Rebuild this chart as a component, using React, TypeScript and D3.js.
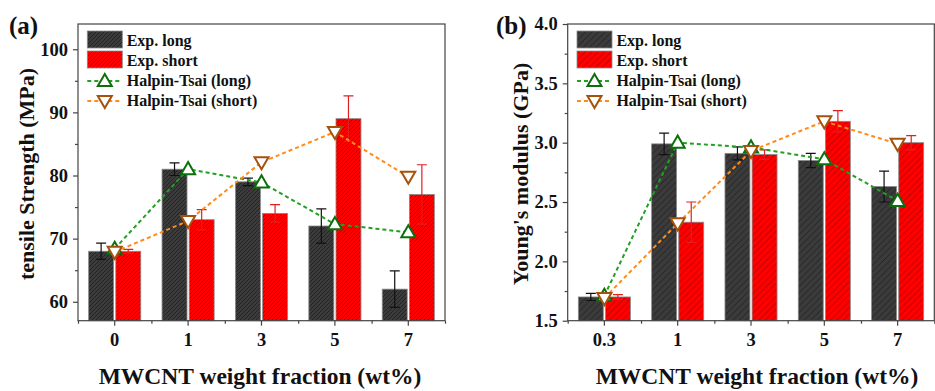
import { useEffect, useRef } from 'react';
import { axisBottom, axisLeft, range, scaleBand, scaleLinear, select, line, symbol, symbolTriangle } from 'd3';

// panel (a): tensile strength
const catsA = ['0', '1', '3', '5', '7'];
const longA = [68, 81, 79, 72, 62];
const longErrA = [1.3, 1.0, 0.6, 2.7, 2.9];
const shortA = [68, 73, 74, 89, 77];
const shortErrA = [0.3, 1.6, 1.4, 3.6, 4.7];
const htLongA = [68.4, 81, 78.9, 72.3, 71];
const htShortA = [67.9, 72.8, 82.1, 86.9, 79.8];

// panel (b): Young's modulus
const catsB = ['0.3', '1', '3', '5', '7'];
const longB = [1.7, 2.99, 2.91, 2.85, 2.63];
const longErrB = [0.03, 0.09, 0.055, 0.06, 0.13];
const shortB = [1.7, 2.33, 2.9, 3.18, 3.0];
const shortErrB = [0.02, 0.17, 0.04, 0.09, 0.06];
const htLongB = [1.71, 3.0, 2.96, 2.86, 2.51];
const htShortB = [1.69, 2.32, 2.93, 3.18, 2.99];

const legendLabels = ['Exp. long', 'Exp. short', 'Halpin-Tsai (long)', 'Halpin-Tsai (short)'];

const FONT = '"Liberation Serif", "Times New Roman", serif';

type Panel = {
  id: string;
  tag: string;
  tagX: number;
  left: number;
  right: number;
  domain: [number, number];
  major: number[];
  minor: number[];
  fmt: (v: number) => string;
  cats: string[];
  long: number[];
  longErr: number[];
  short: number[];
  shortErr: number[];
  htLong: number[];
  htShort: number[];
  yTitle: string;
  yTitleX: number;
  xTitleX: number;
  hatch: number;
};

const panels: Panel[] = [
  {
    id: 'a', tag: '(a)', tagX: 9, left: 78, right: 445, domain: [57, 104],
    major: [60, 70, 80, 90, 100], minor: [65, 75, 85, 95],
    fmt: (v) => String(v),
    cats: catsA, long: longA, longErr: longErrA, short: shortA, shortErr: shortErrA,
    htLong: htLongA, htShort: htShortA,
    yTitle: 'tensile Strength (MPa)', yTitleX: 26, xTitleX: 260, hatch: 4,
  },
  {
    id: 'b', tag: '(b)', tagX: 496, left: 567.7, right: 934.3, domain: [1.5, 4.0],
    major: [1.5, 2.0, 2.5, 3.0, 3.5, 4.0], minor: [1.75, 2.25, 2.75, 3.25, 3.75],
    fmt: (v) => v.toFixed(1),
    cats: catsB, long: longB, longErr: longErrB, short: shortB, shortErr: shortErrB,
    htLong: htLongB, htShort: htShortB,
    yTitle: "Young's modulus (GPa)", yTitleX: 520, xTitleX: 757, hatch: 6.5,
  },
];

const top = 24;
const bottom = 320.7;

export default function App() {
  const ref = useRef<SVGSVGElement>(null);

  useEffect(() => {
    const svg = select(ref.current);
    svg.selectAll('*').remove();
    const defs = svg.append('defs');

    panels.forEach((p) => {
      // hatch patterns
      const s = p.hatch;
      const mk = (name: string, bg: string, fg: string) => {
        const pat = defs
          .append('pattern')
          .attr('id', `${name}-${p.id}`)
          .attr('patternUnits', 'userSpaceOnUse')
          .attr('width', s)
          .attr('height', s);
        pat.append('rect').attr('width', s).attr('height', s).attr('fill', bg);
        pat
          .append('path')
          .attr('d', `M0,${s} L${s},0 M${-s / 4},${s / 4} L${s / 4},${-s / 4} M${(3 * s) / 4},${(5 * s) / 4} L${(5 * s) / 4},${(3 * s) / 4}`)
          .attr('stroke', fg)
          .attr('stroke-width', 0.8);
      };
      mk('dark', '#3b3b3b', '#1e1e1e');
      mk('red', '#ff0000', '#a80000');

      const x = scaleBand<string>().domain(p.cats).range([p.left, p.right]);
      const bw = x.bandwidth();
      const inner = scaleBand<string>()
        .domain(['long', 'short'])
        .range([bw * 0.145, bw * 0.855])
        .paddingInner(0.08);
      const y = scaleLinear().domain(p.domain).range([bottom, top]);
      const cx = (c: string) => (x(c) ?? 0) + bw / 2;

      const g = svg.append('g');

      // bars
      const series = [
        { key: 'long', vals: p.long, errs: p.longErr, fill: `url(#dark-${p.id})`, err: '#111' },
        { key: 'short', vals: p.short, errs: p.shortErr, fill: `url(#red-${p.id})`, err: '#e02020' },
      ];
      series.forEach((sr) => {
        g.append('g')
          .selectAll('rect')
          .data(p.cats)
          .join('rect')
          .attr('x', (c) => (x(c) ?? 0) + (inner(sr.key) ?? 0))
          .attr('width', inner.bandwidth())
          .attr('y', (_, i) => y(sr.vals[i]))
          .attr('height', (_, i) => bottom - y(sr.vals[i]))
          .attr('fill', sr.fill)
          .attr('stroke', '#8a8a8a')
          .attr('stroke-width', 0.8);
      });
      series.forEach((sr) => {
        const eg = g.append('g').attr('stroke', sr.err).attr('stroke-width', 1.2).attr('fill', 'none');
        p.cats.forEach((c, i) => {
          const ex = (x(c) ?? 0) + (inner(sr.key) ?? 0) + inner.bandwidth() / 2;
          const y0 = y(sr.vals[i] - sr.errs[i]);
          const y1 = y(sr.vals[i] + sr.errs[i]);
          eg.append('path').attr('d', `M${ex},${y0}V${y1}M${ex - 5},${y1}H${ex + 5}M${ex - 5},${y0}H${ex + 5}`);
        });
      });

      // Halpin-Tsai lines
      const lines = [
        { vals: p.htLong, color: '#22a022', mstroke: '#0b700b', rot: 0 },
        { vals: p.htShort, color: '#ff8c1a', mstroke: '#a5520c', rot: 180 },
      ];
      const tri = symbol().type(symbolTriangle).size(85);
      lines.forEach((ln) => {
        const gen = line<number>()
          .x((_, i) => cx(p.cats[i]))
          .y((d) => y(d));
        g.append('path')
          .attr('d', gen(ln.vals))
          .attr('fill', 'none')
          .attr('stroke', ln.color)
          .attr('stroke-width', 2)
          .attr('stroke-dasharray', '4,3');
      });
      lines.forEach((ln) => {
        g.append('g')
          .selectAll('path')
          .data(ln.vals)
          .join('path')
          .attr('d', tri())
          .attr('transform', (d, i) => `translate(${cx(p.cats[i])},${y(d) + (ln.rot ? -1 : 1)}) rotate(${ln.rot})`)
          .attr('fill', 'white')
          .attr('stroke', ln.mstroke)
          .attr('stroke-width', 2);
      });

      // frame
      g.append('rect')
        .attr('x', p.left)
        .attr('y', top)
        .attr('width', p.right - p.left)
        .attr('height', bottom - top)
        .attr('fill', 'none')
        .attr('stroke', '#444')
        .attr('stroke-width', 1.2);

      // axes
      const yAx = g
        .append('g')
        .attr('transform', `translate(${p.left},0)`)
        .call(axisLeft(y).tickValues(p.major).tickFormat((v) => p.fmt(+v)).tickSize(5).tickPadding(5));
      const yMin = g
        .append('g')
        .attr('transform', `translate(${p.left},0)`)
        .call(axisLeft(y).tickValues(p.minor).tickFormat(() => '').tickSize(3));
      const bounds = range(p.cats.length + 1).map((i) => p.left + i * bw);
      const xb = scaleLinear().domain([p.left, p.right]).range([p.left, p.right]);
      const xMin = g
        .append('g')
        .attr('transform', `translate(0,${bottom})`)
        .call(axisBottom(xb).tickValues(bounds).tickFormat(() => '').tickSize(3));
      const xAx = g
        .append('g')
        .attr('transform', `translate(0,${bottom})`)
        .call(axisBottom(x).tickSize(5).tickPadding(7));
      [yAx, yMin, xMin, xAx].forEach((a) => {
        a.select('.domain').remove();
        a.selectAll('line').attr('stroke', '#444').attr('stroke-width', 1.2);
        a.selectAll('text')
          .attr('font-family', FONT)
          .attr('font-weight', 'bold')
          .attr('font-size', 18.5)
          .attr('fill', '#111');
      });

      // legend
      const lg = g.append('g').attr('font-family', FONT).attr('font-weight', 'bold').attr('font-size', 16).attr('fill', '#111');
      const lx = p.left + 9.3;
      [`url(#dark-${p.id})`, `url(#red-${p.id})`].forEach((f, i) => {
        lg.append('rect')
          .attr('x', lx)
          .attr('y', 31 + i * 20)
          .attr('width', 35)
          .attr('height', 17)
          .attr('fill', f)
          .attr('stroke', '#8a8a8a')
          .attr('stroke-width', 0.8);
      });
      lines.forEach((ln, i) => {
        const ly = 81 + i * 20;
        lg.append('path')
          .attr('d', `M${lx},${ly}H${lx + 35}`)
          .attr('stroke', ln.color)
          .attr('stroke-width', 2)
          .attr('stroke-dasharray', '4,3');
        lg.append('path')
          .attr('d', tri())
          .attr('transform', `translate(${lx + 17.5},${ly + (ln.rot ? -1 : 1)}) rotate(${ln.rot})`)
          .attr('fill', 'white')
          .attr('stroke', ln.mstroke)
          .attr('stroke-width', 2);
      });
      legendLabels.forEach((t, i) => {
        lg.append('text')
          .attr('x', p.left + 48.7)
          .attr('y', 40 + i * 20)
          .attr('dy', '0.35em')
          .text(t);
      });

      // titles
      svg.append('text')
        .attr('x', p.tagX)
        .attr('y', 34)
        .attr('font-family', FONT)
        .attr('font-weight', 'bold')
        .attr('font-size', 25)
        .attr('fill', '#111')
        .text(p.tag);
      svg.append('text')
        .attr('transform', `translate(${p.yTitleX},174) rotate(-90)`)
        .attr('text-anchor', 'middle')
        .attr('dy', '0.35em')
        .attr('font-family', FONT)
        .attr('font-weight', 'bold')
        .attr('font-size', 22)
        .attr('fill', '#111')
        .text(p.yTitle);
      svg.append('text')
        .attr('x', p.xTitleX)
        .attr('y', 384)
        .attr('text-anchor', 'middle')
        .attr('font-family', FONT)
        .attr('font-weight', 'bold')
        .attr('font-size', 23.5)
        .attr('fill', '#111')
        .text('MWCNT weight fraction (wt%)');
    });
  }, []);

  return (
    <div style={{ position: 'absolute', left: 0, top: 0, background: 'white' }}>
      <svg ref={ref} width={935} height={391} style={{ display: 'block' }} />
    </div>
  );
}
